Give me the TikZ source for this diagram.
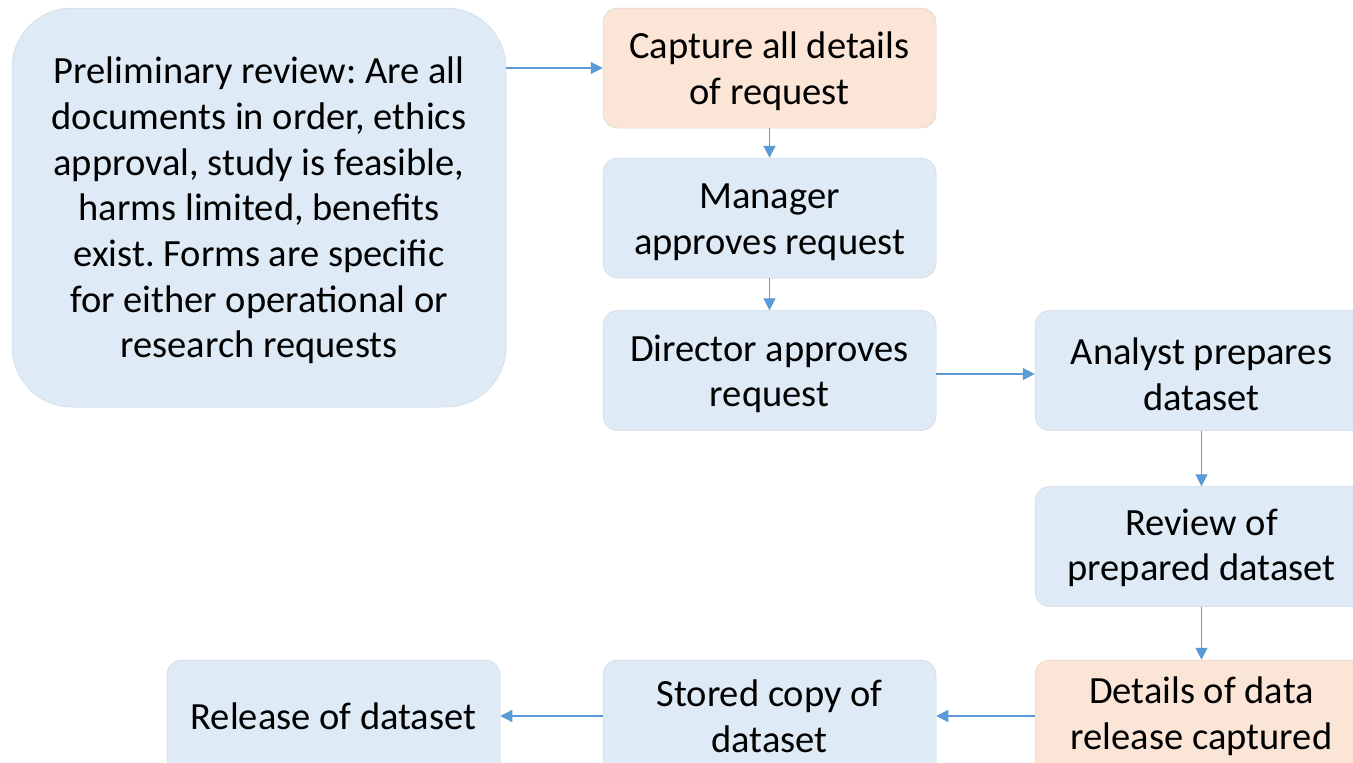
\documentclass[tikz,border=0pt]{standalone}
\usepackage{fontspec}
\setmainfont{Carlito}
\frenchspacing
\usetikzlibrary{arrows.meta}
\definecolor{boxblue}{HTML}{DEEAF6}
\definecolor{boxpeach}{HTML}{FBE5D6}
\definecolor{boxedge}{HTML}{D0D8E0}
\definecolor{flow}{HTML}{5B9BD5}
\begin{document}
\begin{tikzpicture}[x=1pt,y=-1pt,
  stage/.style={rectangle, rounded corners=15pt, fill=boxblue, draw=boxedge, line width=0.5pt,
    minimum width=333pt, minimum height=120pt, inner sep=0pt},
  capture/.style={stage, fill=boxpeach, draw=boxpeach!80!gray},
  caption/.style={inner sep=0pt, align=center, font=\fontsize{38.5}{45.7}\selectfont},
  flowarrow/.style={draw=flow, line width=1.2pt, -{Triangle[length=12pt,width=12pt]}, fill=flow}
]
\useasboundingbox (0,0) rectangle (1353,763);

% boxes
\node[stage, rounded corners=60pt, minimum width=494pt, minimum height=399pt] (pre) at (259,207.5) {};
\node[capture] (cap) at (769.5,68) {};
\node[stage] (mgr) at (769.5,218) {};
\node[stage] (dir) at (769.5,370.5) {};
\node[stage] (ana) at (1201.5,370.5) {};
\node[stage] (rev) at (1201.5,546.5) {};
\node[capture] (det) at (1201.5,720) {};
\node[stage] (sto) at (769.5,720) {};
\node[stage] (rel) at (333.5,720) {};

% labels
\node[caption] (preT) at (259,210.5)
  {Preliminary review: Are all\\documents in order, ethics\\approval, study is feasible,\\harms limited, benefits\\exist. Forms are specific\\for either operational or\\research requests};
\node[caption] (capT) at (769.5,71.5) {Capture all details\\of request};
\node[caption] (mgrT) at (769.5,222) {Manager\\approves request};
\node[caption] (dirT) at (769.5,374) {Director approves\\request};
\node[caption] (anaT) at (1201.5,374.5) {Analyst prepares\\dataset};
\node[caption] (revT) at (1201.5,548) {Review of\\prepared dataset};
\node[caption] (detT) at (1201.5,716) {Details of data\\release captured};
\node[caption] (stoT) at (769.5,716) {Stored copy of\\dataset};
\node[caption] (relT) at (333.5,716) {Release of dataset};

% flow
\draw[flowarrow] (pre.east |- cap.west) -- (cap.west);
\draw[flowarrow] (cap) -- (mgr);
\draw[flowarrow] (mgr) -- (dir);
\draw[flowarrow] (dir.east |- dirT.center) -- (ana.west |- dirT.center);
\draw[flowarrow] (ana) -- (rev);
\draw[flowarrow] (rev) -- (det);
\draw[flowarrow] (det.west |- detT.center) -- (sto.east |- detT.center);
\draw[flowarrow] (sto.west |- relT.center) -- (rel.east |- relT.center);
\end{tikzpicture}
\end{document}
